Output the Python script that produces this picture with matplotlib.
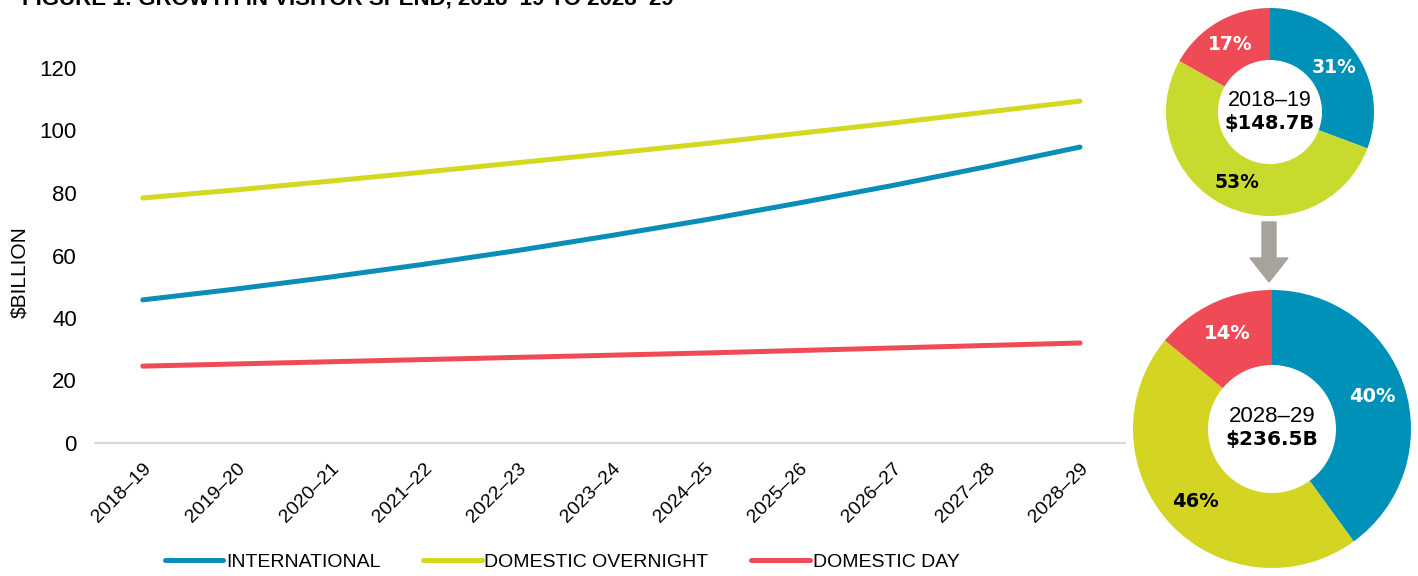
import numpy as np
import matplotlib
matplotlib.use("Agg")
import matplotlib.pyplot as plt
from matplotlib.patches import Polygon

# data
years = ["2018–19", "2019–20", "2020–21", "2021–22", "2022–23", "2023–24",
         "2024–25", "2025–26", "2026–27", "2027–28", "2028–29"]
international = [45.8, 49.3, 53.1, 57.2, 61.6, 66.4, 71.4, 76.8, 82.4, 88.4, 94.7]
dom_overnight = [78.4, 81.0, 83.8, 86.7, 89.7, 92.7, 95.8, 99.1, 102.4, 105.9, 109.4]
dom_day = [24.6, 25.3, 26.0, 26.7, 27.4, 28.1, 28.8, 29.6, 30.4, 31.2, 32.0]
series_names = ["INTERNATIONAL", "DOMESTIC OVERNIGHT", "DOMESTIC DAY"]

share_start = [31, 53, 17]
share_end = [40, 46, 14]
total_start = "$148.7B"
total_end = "$236.5B"
yticks = [0, 20, 40, 60, 80, 100, 120]

c_blue = "#0A8EB8"
c_yellow = "#D3D820"
c_red = "#EF4B57"
c_blue_pie = "#0091B8"
c_yellow_pie1 = "#C9DA2E"
c_yellow_pie2 = "#D4D523"

plt.rcParams["font.family"] = ["Liberation Sans", "DejaVu Sans"]

fig = plt.figure(figsize=(14.18, 5.76), dpi=100)

# title is clipped by the top edge in the reference, only its foot shows
fig.text(22 / 1418, 1 - 4 / 576, "FIGURE 1: GROWTH IN VISITOR SPEND, 2018–19 TO 2028–29",
         fontsize=16, fontweight="bold", va="baseline", ha="left")

ax = fig.add_axes([95 / 1418, 1 - 443 / 576, (1125 - 95) / 1418, (443 - 68) / 576])
x = np.arange(len(years))
lines = []
for vals, col in zip([international, dom_overnight, dom_day], [c_blue, c_yellow, c_red]):
    ln, = ax.plot(x, vals, color=col, lw=3.6, solid_capstyle="round")
    lines.append(ln)

ax.set_xlim(-0.51, 10.48)
ax.set_ylim(0, 120)
ax.set_yticks(yticks)
ax.set_xticks(x)
ax.set_xticklabels(years, rotation=45, ha="right", rotation_mode="anchor", fontsize=14)
ax.tick_params(axis="y", length=0, labelsize=16, pad=13)
ax.tick_params(axis="x", length=0, pad=12)
for s in ["top", "right", "left"]:
    ax.spines[s].set_visible(False)
ax.spines["bottom"].set_color("#D9D9D9")
ax.spines["bottom"].set_linewidth(1.5)
ax.set_ylabel("$BILLION", fontsize=15)
ax.yaxis.set_label_coords(-0.064, 0.456)

leg = fig.legend(lines, series_names, loc="center", bbox_to_anchor=(562 / 1418, 1 - 562 / 576),
                 ncol=3, frameon=False, handlelength=3.0, handletextpad=0.15,
                 columnspacing=2.2, prop={"family": "Liberation Sans", "size": 14})


def donut(cx, cy, r, rin, shares, cols, year, total, fs_c, fs_p, lab_r, lab_cols):
    a = fig.add_axes([(cx - r) / 1418, 1 - (cy + r) / 576, 2 * r / 1418, 2 * r / 576])
    wedges, _ = a.pie(shares, colors=cols, startangle=90, counterclock=False,
                      radius=1, wedgeprops=dict(width=1 - rin / r, linewidth=0))
    for w, s, lc in zip(wedges, shares, lab_cols):
        ang = np.deg2rad((w.theta1 + w.theta2) / 2)
        a.text(lab_r * np.cos(ang), lab_r * np.sin(ang), f"{s}%", ha="center", va="center",
               color=lc, fontsize=fs_p, fontweight="bold", family="DejaVu Sans")
    # centre labels, offsets in pixels turned into data units
    a.text(0, 12 / r, year, ha="center", va="center", fontsize=fs_c + 1.5)
    a.text(0, -11 / r, total, ha="center", va="center", fontsize=fs_c, fontweight="bold",
           family="DejaVu Sans")
    a.set_xlim(-1, 1)
    a.set_ylim(-1, 1)
    a.axis("off")


donut(1270, 112, 104, 52, share_start, [c_blue_pie, c_yellow_pie1, c_red], "2018–19",
      total_start, 14, 13.5, 0.75, ["white", "black", "white"])
donut(1272, 429, 139, 64, share_end, [c_blue_pie, c_yellow_pie2, c_red], "2028–29",
      total_end, 14.5, 14, 0.76, ["white", "black", "white"])

# gray arrow between the donuts
ay0, ay1, ay2 = 222, 258, 282
ax_c = 1269
pts_px = [(ax_c - 7, ay0), (ax_c + 7, ay0), (ax_c + 7, ay1), (ax_c + 19, ay1), (ax_c, ay2),
          (ax_c - 19, ay1), (ax_c - 7, ay1)]
pts = [(px / 100, (576 - py) / 100) for px, py in pts_px]
fig.patches.append(Polygon(pts, closed=True, color="#A7A29C", transform=fig.dpi_scale_trans))

fig.savefig("out.png", dpi=100)
